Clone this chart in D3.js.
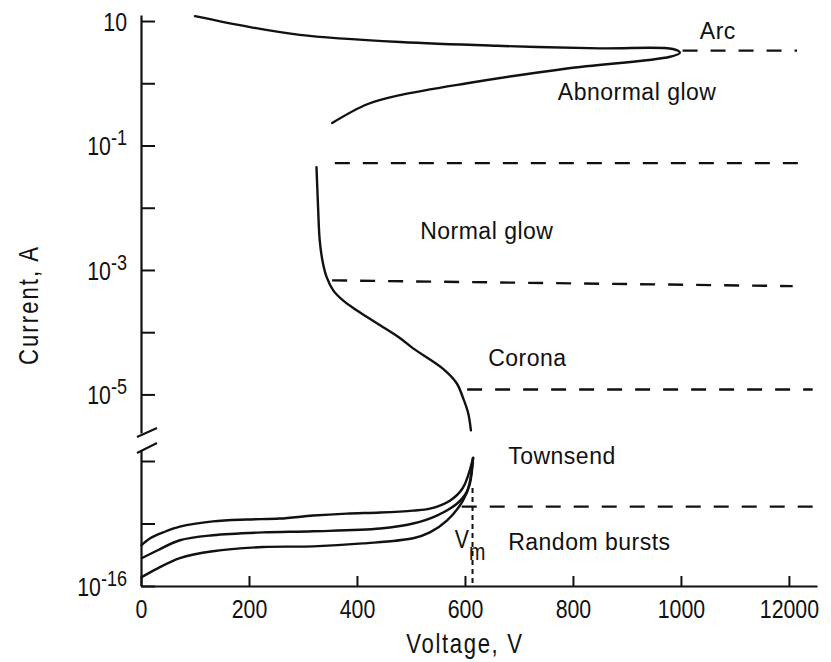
<!DOCTYPE html>
<html>
<head>
<meta charset="utf-8">
<script src="https://cdn.jsdelivr.net/npm/d3@7"></script>
<style>
  body { margin: 0; background: #fff; }
  svg text { font-family: "Liberation Sans", Arial, sans-serif; fill: #111; }
</style>
</head>
<body>
<div id="chart"></div>
<script>
// Axis values
const voltageExtent = [0, 1252]
const voltageTicks = [0, 200, 400, 600, 800, 1000, 1200]
const voltageTickLabels = ["0", "200", "400", "600", "800", "1000", "12000"]

const upperCurrentExtent = [2.4e-6, 12.5]
const upperCurrentTicks = [10, 1, 1e-1, 1e-2, 1e-3, 1e-4, 1e-5]
const upperTickLabels = ["10", "", "10^-1", "", "10^-3", "", "10^-5"]

const lowerCurrentExtent = [1e-16, 1.5e-14]
const lowerCurrentTicks = [1e-16, 1e-15, 1e-14]
const lowerTickLabels = ["10^-16", "", ""]

// Curves [voltage V, current A]
const arcCurve = [
  [100, 12.0], [202, 8.0], [294, 6.0], [480, 4.6], [659, 4.0], [850, 3.64],
  [985, 3.55], [998, 3.1], [980, 2.67], [789, 1.73], [604, 1.0], [480, 0.645],
  [419, 0.46], [354, 0.23]
]
const glowCurve = [
  [325, 4.5e-2], [328, 1.0e-2], [331, 3.0e-3], [337, 1.28e-3], [344, 7.6e-4],
  [356, 4.7e-4], [374, 3.25e-4], [400, 2.24e-4], [437, 1.39e-4], [480, 8.0e-5],
  [504, 5.5e-5], [559, 2.6e-5], [585, 1.5e-5], [596, 9.0e-6], [606, 5.0e-6],
  [611, 2.64e-6]
]
const townsendUpper = [
  [1, 4.5e-16], [17, 5.8e-16], [41, 7.2e-16], [72, 8.9e-16], [133, 1.08e-15],
  [196, 1.16e-15], [257, 1.2e-15], [319, 1.34e-15], [381, 1.44e-15], [443, 1.5e-15],
  [504, 1.61e-15], [535, 1.73e-15], [572, 2.32e-15], [596, 3.7e-15], [615, 1.12e-14]
]
const townsendMiddle = [
  [2, 2.8e-16], [30, 3.7e-16], [72, 5.4e-16], [133, 6.5e-16], [226, 7.2e-16],
  [319, 7.5e-16], [443, 8.3e-16], [504, 1.0e-15], [548, 1.34e-15], [585, 2.07e-15],
  [604, 3.3e-15], [611, 5.8e-15], [615, 1.12e-14]
]
const townsendLower = [
  [2, 1.4e-16], [30, 1.9e-16], [72, 2.8e-16], [133, 3.6e-16], [226, 4.2e-16],
  [319, 4.3e-16], [411, 4.8e-16], [504, 5.8e-16], [535, 7.2e-16], [567, 1.12e-15],
  [596, 2.3e-15], [609, 4.3e-15], [615, 1.12e-14]
]

// Region boundaries (dashed)
const upperBoundaries = [
  [[1003, 3.35], [1215, 3.35]],
  [[359, 5.2e-2], [1230, 5.2e-2]],
  [[354, 6.8e-4], [1207, 5.5e-4]],
  [[604, 1.2e-5], [1244, 1.2e-5]]
]
const lowerBoundaries = [
  [[594, 1.86e-15], [1244, 1.86e-15]]
]
const vmLine = [[614, 3.7e-15], [614, 1e-16]]

// Region labels
const upperLabels = ["Arc", "Abnormal glow", "Normal glow", "Corona"]
const upperLabelAt = [[1035, 5.1], [772, 0.535], [517, 3.2e-3], [643, 2.9e-5]]
const lowerLabels = ["Townsend", "Random bursts"]
const lowerLabelAt = [[680, 8.9e-15], [680, 3.7e-16]]
const vmLabelAt = [581, 4.0e-16]

const width = 831
const height = 662
const squeeze = 0.82 // condensed lettering of the original

const svg = d3.select("#chart")
  .append("svg")
  .attr("width", width)
  .attr("height", height)

const xScale = d3.scaleLinear().domain(voltageExtent).range([141, 817])
const yUpper = d3.scaleLog().domain(upperCurrentExtent).range([433, 15])
const yLower = d3.scaleLog().domain(lowerCurrentExtent).range([586, 450])
const x0 = xScale(0)

// Axes
const xAxis = svg.append("g")
  .attr("transform", `translate(0,${yLower(lowerCurrentExtent[0])})`)
  .call(d3.axisBottom(xScale)
    .tickValues(voltageTicks)
    .tickSize(-10)
    .tickSizeOuter(0)
    .tickPadding(14)
    .tickFormat((d, i) => voltageTickLabels[i]))

const upperAxis = svg.append("g")
  .attr("transform", `translate(${x0},0)`)
  .call(d3.axisLeft(yUpper).tickValues(upperCurrentTicks).tickSize(-14).tickSizeOuter(0).tickFormat(""))

const lowerAxis = svg.append("g")
  .attr("transform", `translate(${x0},0)`)
  .call(d3.axisLeft(yLower).tickValues(lowerCurrentTicks).tickSize(-14).tickSizeOuter(0).tickFormat(""))

svg.selectAll(".domain").attr("stroke", "#111").attr("stroke-width", 2.2)
svg.selectAll(".tick line").attr("stroke", "#111").attr("stroke-width", 2)
xAxis.selectAll("text")
  .attr("font-size", 26)
  .attr("fill", "#111")
  .attr("font-family", '"Liberation Sans", Arial, sans-serif')
  .attr("transform", `scale(${squeeze},1)`)

// Power-of-ten labels with superscripts
const powerLabel = (axis, labels) => {
  axis.selectAll(".tick").each(function (d, i) {
    if (!labels[i]) return
    const [base, exp] = labels[i].split("^")
    const t = d3.select(this).append("text")
      .attr("x", -14 / squeeze)
      .attr("dy", "0.36em")
      .attr("text-anchor", "end")
      .attr("font-size", 26)
      .attr("transform", `scale(${squeeze},1)`)
    t.append("tspan").text(base)
    if (exp) t.append("tspan").attr("dy", -10).attr("font-size", 22).text(exp)
  })
}
powerLabel(upperAxis, upperTickLabels)
powerLabel(lowerAxis, lowerTickLabels)

// Axis break marks
const yBreakTop = yUpper(upperCurrentExtent[0])
const yBreakBottom = yLower(lowerCurrentExtent[1])
svg.append("g")
  .selectAll("line")
  .data([[yBreakTop + 4, yBreakTop - 5], [yBreakBottom + 3, yBreakBottom - 7]])
  .join("line")
  .attr("x1", x0 - 4)
  .attr("x2", x0 + 16)
  .attr("y1", d => d[0])
  .attr("y2", d => d[1])
  .attr("stroke", "#111")
  .attr("stroke-width", 2)

// Axis titles
svg.append("text")
  .attr("transform", `translate(${xScale(600)},653) scale(${squeeze},1)`)
  .attr("text-anchor", "middle")
  .attr("font-size", 27)
  .attr("letter-spacing", 2)
  .text("Voltage, V")

svg.append("text")
  .attr("transform", `translate(38,305) rotate(-90) scale(${squeeze},1)`)
  .attr("text-anchor", "middle")
  .attr("font-size", 27)
  .attr("letter-spacing", 2.5)
  .text("Current, A")

// Curves
const upperLine = d3.line()
  .x(d => xScale(d[0]))
  .y(d => yUpper(d[1]))
  .curve(d3.curveCatmullRom.alpha(0.5))
const lowerLine = d3.line()
  .x(d => xScale(d[0]))
  .y(d => yLower(d[1]))
  .curve(d3.curveCatmullRom.alpha(0.5))

const curves = svg.append("g")
  .attr("fill", "none")
  .attr("stroke", "#111")
  .attr("stroke-width", 2.4)
  .attr("stroke-linejoin", "round")
  .attr("stroke-linecap", "round")

curves.selectAll(".up").data([arcCurve, glowCurve]).join("path").attr("class", "up").attr("d", upperLine)
curves.selectAll(".low").data([townsendUpper, townsendMiddle, townsendLower]).join("path").attr("class", "low").attr("d", lowerLine)

// Dashed boundaries
const straightUpper = d3.line().x(d => xScale(d[0])).y(d => yUpper(d[1]))
const straightLower = d3.line().x(d => xScale(d[0])).y(d => yLower(d[1]))
const dashes = svg.append("g")
  .attr("fill", "none")
  .attr("stroke", "#111")
  .attr("stroke-width", 2.4)
  .attr("stroke-dasharray", "15,13")
dashes.selectAll(".bu").data(upperBoundaries).join("path").attr("class", "bu").attr("d", straightUpper)
dashes.selectAll(".bl").data(lowerBoundaries).join("path").attr("class", "bl").attr("d", straightLower)

svg.append("path")
  .datum(vmLine)
  .attr("d", straightLower)
  .attr("fill", "none")
  .attr("stroke", "#111")
  .attr("stroke-width", 2)
  .attr("stroke-dasharray", "5,4")

// Region labels
const regionText = (labels, at, y) => {
  svg.append("g")
    .selectAll("text")
    .data(labels)
    .join("text")
    .attr("x", (d, i) => xScale(at[i][0]))
    .attr("y", (d, i) => y(at[i][1]))
    .attr("font-size", 23)
    .attr("letter-spacing", 0.5)
    .text(d => d)
}
regionText(upperLabels, upperLabelAt, yUpper)
regionText(lowerLabels, lowerLabelAt, yLower)

const vm = svg.append("text")
  .attr("transform", `translate(${xScale(vmLabelAt[0])},${yLower(vmLabelAt[1])}) scale(${squeeze},1)`)
  .attr("font-size", 26)
vm.append("tspan").text("V")
vm.append("tspan").attr("dy", 12).attr("font-size", 24).text("m")
</script>
</body>
</html>
